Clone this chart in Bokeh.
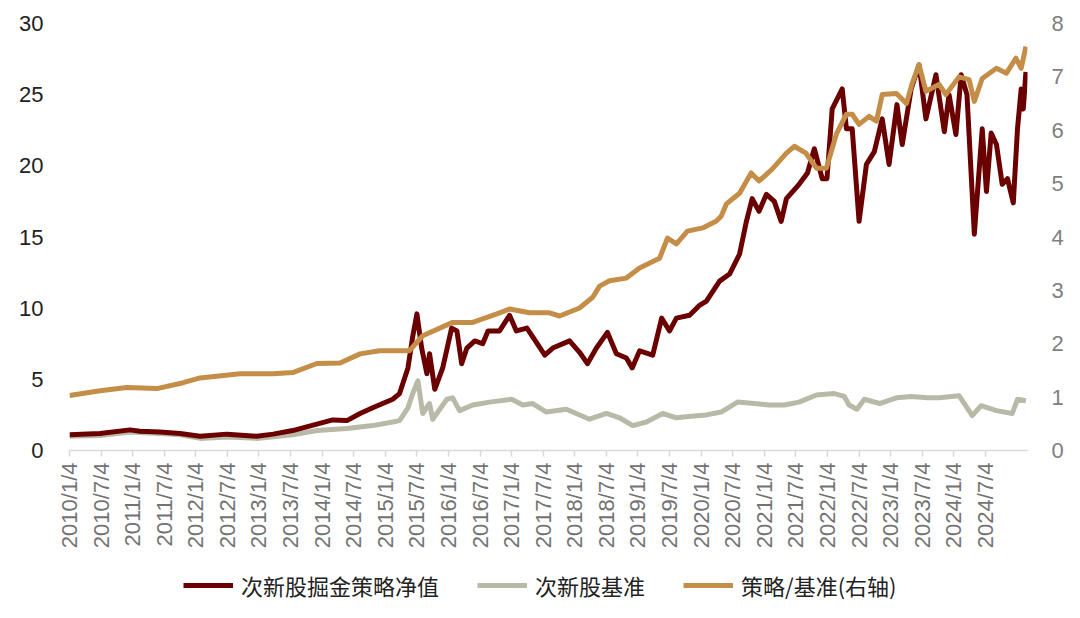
import math
from bokeh.plotting import figure
from bokeh.layouts import column
from bokeh.models import Range1d, LinearAxis, FixedTicker, Legend, LegendItem
from bokeh.embed import file_html
from bokeh.resources import INLINE

# x = months since 2010/1/4
tick_months = list(range(0, 175, 6))
tick_labels = [f"{y}/{m}/4" for y in range(2010, 2025) for m in (1, 7)]

strategy_month = [0, 5.8, 11.5, 13.4, 17.2, 21, 24.8, 29.9, 35.6, 38.7,
                  42.4, 47, 50, 52.7, 55.2, 57.6, 59.5, 61.4, 62.7, 64.3,
                  65.2, 66, 66.9, 67.9, 68.4, 69.4, 70.9, 72.6, 73.6, 74.5,
                  75.5, 77, 78.5, 79.5, 81.7, 83.6, 84.9, 86.9, 88.7, 90.3,
                  91.8, 95, 96.9, 98.4, 100.1, 102.2, 103.9, 105.8, 106.9, 108.3,
                  110.8, 112.5, 114, 115.3, 117.8, 119.7, 121, 123.5, 125.4, 127.3,
                  128.6, 129.7, 131, 132.4, 133.9, 135.2, 136.2, 138.6, 140.2, 141.5,
                  143, 143.9, 144.9, 146.8, 147.6, 148.7, 150, 151.4, 152.9, 154.4,
                  155.7, 157.2, 158.2, 159.9, 161.4, 162.7, 164.6, 166.2, 167.1, 168.4,
                  169.4, 170.5, 171.9, 173.4, 174.2, 175.1, 176.1, 177.2, 178.2, 179.3,
                  180.1, 180.8, 181.2, 181.7]
strategy_value = [1.1, 1.2, 1.45, 1.35, 1.3, 1.2, 1.0, 1.15, 1.0, 1.15,
                  1.4, 1.85, 2.15, 2.1, 2.6, 3.0, 3.3, 3.6, 4.0, 5.8,
                  8.0, 9.6, 7.2, 5.4, 6.8, 4.3, 5.8, 8.6, 8.4, 6.1,
                  7.2, 7.7, 7.5, 8.4, 8.4, 9.5, 8.4, 8.6, 7.6, 6.7,
                  7.2, 7.7, 6.9, 6.1, 7.2, 8.3, 6.8, 6.5, 5.8, 7.0,
                  6.7, 9.3, 8.4, 9.3, 9.5, 10.2, 10.5, 11.9, 12.4, 13.8,
                  16.1, 17.7, 16.8, 18.0, 17.5, 16.1, 17.7, 18.7, 19.5, 21.2,
                  19.1, 19.1, 24.0, 25.4, 22.6, 22.6, 16.1, 20.1, 21.0, 23.3,
                  20.1, 24.3, 21.5, 25.4, 27.1, 23.3, 26.4, 22.4, 25.0, 22.2,
                  26.4, 25.0, 15.2, 22.6, 18.2, 22.3, 21.5, 18.7, 19.1, 17.4,
                  22.6, 25.4, 24.0, 26.6]

bench_month = [0, 5.8, 11.5, 17.2, 21, 24.8, 29.9, 35.6, 42.4, 47,
               52.7, 57.6, 61.4, 62.7, 64.3, 65.2, 66.2, 67.1, 68.4, 69,
               71.7, 72.8, 74.1, 76.6, 79.8, 84, 86.1, 88, 90.6, 94.4,
               98.8, 102, 104.5, 107, 109.6, 112.7, 115.3, 118.1, 121, 123.8,
               126.9, 130.1, 133, 135.8, 138.6, 141.9, 145.3, 147.2, 148.1, 149.6,
               151, 153.9, 157.1, 159.9, 163, 165.2, 169, 171.5, 173.2, 176.1,
               179.1, 180.1, 181.7]
bench_value = [1.0, 1.05, 1.3, 1.2, 1.1, 0.85, 0.95, 0.85, 1.1, 1.4,
               1.55, 1.75, 2.0, 2.1, 3.0, 4.0, 4.9, 2.6, 3.3, 2.2,
               3.6, 3.7, 2.8, 3.2, 3.4, 3.6, 3.2, 3.3, 2.7, 2.9,
               2.2, 2.6, 2.3, 1.75, 2.0, 2.6, 2.3, 2.4, 2.5, 2.7,
               3.4, 3.3, 3.2, 3.2, 3.4, 3.9, 4.0, 3.8, 3.2, 2.9,
               3.6, 3.3, 3.7, 3.8, 3.7, 3.7, 3.85, 2.45, 3.15, 2.8,
               2.6, 3.6, 3.5]

ratio_month = [0, 5.8, 10.9, 16.6, 21.6, 24.8, 32.4, 38.7, 42.4, 47,
               51.4, 55.2, 58.9, 64.6, 67.1, 72.8, 76.6, 81.2, 83.6, 87.4,
               91.2, 93.1, 96.9, 99.4, 100.7, 102.6, 105.8, 108.3, 112.1, 113.6,
               115.3, 117.4, 120.3, 122.9, 123.8, 124.8, 127.3, 129.5, 131, 133.5,
               136.2, 137.7, 139.9, 141.9, 143.8, 145.7, 147.6, 148.7, 150, 151.9,
               153.3, 154.4, 157.1, 159, 160.1, 161.4, 162.7, 165.2, 166.5, 169,
               170.9, 171.9, 173.4, 176.1, 178, 179.8, 180.8, 181.7]
ratio_value = [1.03, 1.12, 1.18, 1.16, 1.27, 1.36, 1.44, 1.44, 1.46, 1.63,
               1.64, 1.81, 1.87, 1.87, 2.15, 2.4, 2.4, 2.56, 2.65, 2.58,
               2.58, 2.52, 2.67, 2.87, 3.08, 3.18, 3.23, 3.42, 3.6, 3.98,
               3.87, 4.11, 4.17, 4.3, 4.39, 4.62, 4.82, 5.2, 5.05, 5.27,
               5.57, 5.7, 5.57, 5.29, 5.29, 5.93, 6.3, 6.3, 6.11, 6.26,
               6.17, 6.67, 6.69, 6.5, 6.88, 7.23, 6.73, 6.86, 6.67, 7.0,
               6.95, 6.54, 6.97, 7.16, 7.07, 7.35, 7.16, 7.57]

series_names = ["次新股掘金策略净值", "次新股基准", "策略/基准(右轴)"]
colors = ["#6B0000", "#B9B9A8", "#C48E48"]

p = figure(width=1080, height=560, output_backend="svg", toolbar_location=None,
           x_range=Range1d(0, 182), y_range=Range1d(0, 30),
           min_border_left=69, min_border_right=53, min_border_top=23,
           min_border_bottom=110)
p.extra_y_ranges = {"right": Range1d(0, 8)}
p.outline_line_color = None
p.xgrid.visible = False
p.ygrid.visible = False

num_font = "Liberation Sans"

xa = p.xaxis[0]
xa.ticker = FixedTicker(ticks=tick_months)
xa.major_label_overrides = {m: lab for m, lab in zip(tick_months, tick_labels)}
xa.major_label_orientation = math.pi / 2
xa.axis_line_color = "#D9D9D9"
xa.axis_line_width = 1.5
xa.major_tick_line_color = "#D9D9D9"
xa.major_tick_line_width = 1.5
xa.major_tick_out = 6
xa.major_tick_in = 0
xa.minor_tick_line_color = None
xa.major_label_text_font = num_font
xa.major_label_text_font_size = "22px"
xa.major_label_text_color = "#737373"
xa.major_label_standoff = 6

ya = p.yaxis[0]
ya.ticker = FixedTicker(ticks=[0, 5, 10, 15, 20, 25, 30])
ya.axis_line_color = None
ya.major_tick_line_color = None
ya.minor_tick_line_color = None
ya.major_label_text_font = num_font
ya.major_label_text_font_size = "22px"
ya.major_label_text_color = "#222222"
ya.major_label_standoff = 20

ra = LinearAxis(y_range_name="right", ticker=FixedTicker(ticks=list(range(0, 9))))
ra.axis_line_color = None
ra.major_tick_line_color = None
ra.minor_tick_line_color = None
ra.major_label_text_font = num_font
ra.major_label_text_font_size = "22px"
ra.major_label_text_color = "#7F7F7F"
ra.major_label_standoff = 18
p.add_layout(ra, "right")

r_bench = p.line(bench_month, bench_value, color=colors[1], line_width=5, line_join="round")
r_strat = p.line(strategy_month, strategy_value, color=colors[0], line_width=5, line_join="round")
r_ratio = p.line(ratio_month, ratio_value, color=colors[2], line_width=5, line_join="round",
                 y_range_name="right")

# legend strip below the chart (legend-only proxies: no visible data)
lg = figure(width=1080, height=58, output_backend="svg", toolbar_location=None,
            x_range=Range1d(0, 1), y_range=Range1d(0, 1),
            min_border_left=0, min_border_right=0, min_border_top=0, min_border_bottom=0)
lg.axis.visible = False
lg.grid.visible = False
lg.outline_line_color = None
items = []
for name, col in zip(series_names, colors):
    r = lg.line([0.5], [float("nan")], color=col, line_width=5)
    items.append(LegendItem(label=name, renderers=[r]))
legend = Legend(items=items, orientation="horizontal", location=(114, 17),
                label_text_font="Noto Sans CJK SC", label_text_font_size="22px",
                label_text_color="#222222",
                glyph_width=50, glyph_height=20, label_standoff=8, spacing=38,
                border_line_color=None, background_fill_alpha=0,
                padding=0, margin=0)
lg.add_layout(legend)

layout = column(p, lg, spacing=0)
open("out.html", "w").write(file_html(layout, INLINE))
